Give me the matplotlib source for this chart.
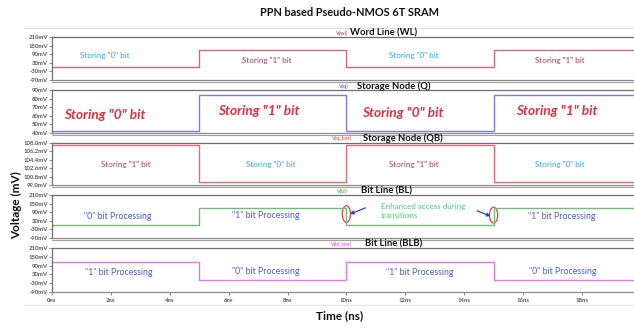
import matplotlib
matplotlib.use("Agg")
import matplotlib.pyplot as plt
from matplotlib.patches import Ellipse
from matplotlib.lines import Line2D

plt.rcParams['font.family'] = ['Lato', 'DejaVu Sans']

# ---- data ----
edges_ns = [0, 5, 10, 15, 19.77]
wl_levels = [0, 122, 0, 122]          # mV
q_levels = [42, 84, 42, 84]           # mV
qb_levels = [107.6, 99.7, 107.6, 99.7]  # mV
bl_levels = [0, 118, 0, 118]          # mV
blb_levels = [114, -10, 114, -10]     # mV

wl_ticks = [210, 150, 90, 30, -30, -90]
q_ticks = [90, 80, 70, 60, 50, 40]
qb_ticks = [108.0, 106.2, 104.4, 102.6, 100.8, 99.0]
bl_ticks = [210, 150, 90, 30, -30, -90]
blb_ticks = [210, 150, 90, 30, -30, -90]
x_ticks = [0, 2, 4, 6, 8, 10, 12, 14, 16, 18]

W, H = 634, 329
fig = plt.figure(figsize=(W / 100, H / 100), dpi=100)

def fx(px):
    return px / W

def fy(py):
    return 1 - py / H

left_px, right_px = 52, 634
panels = [
    # top_px, bottom_px, levels, ticks, fmt, color
    (37, 80, wl_levels, wl_ticks, "{:.0f}mV", "#d06a84"),
    (90, 133, q_levels, q_ticks, "{:.0f}mV", "#7c7ce0"),
    (143, 185, qb_levels, qb_ticks, "{:.1f}mV", "#e86878"),
    (195, 238, bl_levels, bl_ticks, "{:.0f}mV", "#74bc74"),
    (248, 292, blb_levels, blb_ticks, "{:.0f}mV", "#e474ec"),
]

axes = []
for i, (t, b, lev, ticks, fmt, col) in enumerate(panels):
    ax = fig.add_axes([fx(left_px), fy(b), fx(right_px - left_px), (b - t) / H])
    xs, ys = [], []
    for k, v in enumerate(lev):
        xs += [edges_ns[k], edges_ns[k + 1]]
        ys += [v, v]
    ax.plot(xs, ys, color=col, lw=1.0)
    ax.set_xlim(0, 19.77)
    ax.set_ylim(min(ticks), max(ticks))
    ax.set_yticks(ticks)
    ax.set_yticklabels([fmt.format(v) for v in ticks], fontsize=4.3,
                       color="#555555", fontweight="bold")
    ax.tick_params(axis='y', length=2, width=0.6, color="#777777", pad=1)
    ax.spines['right'].set_visible(False)
    ax.spines['top'].set_color("#6e6e6e")
    ax.spines['bottom'].set_color("#8a8a8a")
    ax.spines['left'].set_color("#6e6e6e")
    for s in ['top', 'bottom', 'left']:
        ax.spines[s].set_linewidth(0.9)
    if i < 4:
        ax.set_xticks([])
    else:
        ax.set_xticks(x_ticks)
        ax.set_xticklabels([f"{v}ns" for v in x_ticks], fontsize=4.3,
                           color="#555555", fontweight="bold")
        ax.tick_params(axis='x', length=2, width=0.6, color="#777777", pad=2)
    if i < 4:
        fig.add_artist(Line2D([fx(left_px), 1], [fy(b + 2), fy(b + 2)],
                              color="#a0a0a0", lw=0.8))
    axes.append(ax)

ax_wl, ax_q, ax_qb, ax_bl, ax_blb = axes

cyan = "#2aa8e0"
maroon = "#a43a62"
red = "#e03040"
slate = "#4a5cc8"
green = "#4cc878"

# WL texts
for x, y, s, c in [(1.8, 84, 'Storing "0" bit', cyan), (7.3, 49, 'Storing "1" bit', maroon),
                   (12.3, 84, 'Storing "0" bit', cyan), (17.25, 49, 'Storing "1" bit', maroon)]:
    ax_wl.text(x, y, s, color=c, fontsize=5.8, ha='center', va='center')

# Q texts
for x, y, s in [(1.78, 61, 'Storing "0" bit'), (7.03, 65.5, 'Storing "1" bit'),
                (11.9, 63, 'Storing "0" bit'), (17.15, 65.5, 'Storing "1" bit')]:
    ax_q.text(x, y, s, color=red, fontsize=9.8, ha='center', va='center',
              fontweight='bold', fontstyle='italic')

# QB texts
for x, y, s, c in [(2.5, 103.3, 'Storing "1" bit', maroon), (7.44, 103.3, 'Storing "0" bit', cyan),
                   (12.3, 103.3, 'Storing "1" bit', maroon), (17.25, 103.3, 'Storing "0" bit', cyan)]:
    ax_qb.text(x, y, s, color=c, fontsize=5.8, ha='center', va='center')

# BL texts
for x, y, s in [(2.24, 63, '"0" bit Processing'), (7.25, 70, '"1" bit Processing'),
                (17.3, 58, '"1" bit Processing')]:
    ax_bl.text(x, y, s, color=slate, fontsize=6.3, ha='center', va='center')
ax_bl.text(11.17, 98, "Enhanced access during\ntransitions", color=green, fontsize=5.8,
           ha='left', va='center', linespacing=1.3)
ax_bl.add_patch(Ellipse((10.0, 77), 0.28, 116, fill=False, ec="#e04040", lw=0.9))
ax_bl.add_patch(Ellipse((15.0, 70), 0.28, 110, fill=False, ec="#e04040", lw=0.9))
ax_bl.annotate("", xy=(10.12, 77), xytext=(10.65, 120),
               arrowprops=dict(arrowstyle="-|>", color="#3a3ad0", lw=0.9,
                               mutation_scale=5, shrinkA=0, shrinkB=0))
ax_bl.annotate("", xy=(14.9, 62), xytext=(14.44, 100),
               arrowprops=dict(arrowstyle="-|>", color="#3a3ad0", lw=0.9,
                               mutation_scale=5, shrinkA=0, shrinkB=0))

# BLB texts
for x, y, s in [(2.27, 44, '"1" bit Processing'), (7.25, 51, '"0" bit Processing'),
                (12.5, 44, '"1" bit Processing'), (17.35, 51, '"0" bit Processing')]:
    ax_blb.text(x, y, s, color=slate, fontsize=6.3, ha='center', va='center')

# Headers
headers = [
    (33, 336, "V(wl)", "#b03030", 350, "Word Line (WL)"),
    (86, 339, "V(q)", "#4040c0", 357, "Storage Node (Q)"),
    (138, 332, "V(q_bar)", "#e04040", 363, "Storage Node (QB)"),
    (191, 337, "V(bl)", "#30a030", 361, "Bit Line (BL)"),
    (244, 331, "V(bl_bar)", "#e040e0", 365, "Bit Line (BLB)"),
]
for y, x1, s1, c1, x2, s2 in headers:
    fig.text(fx(x1), fy(y), s1, color=c1, fontsize=4.0, ha='left', va='center')
    fig.text(fx(x2), fy(y), s2, color="#111111", fontsize=6.8, ha='left', va='center',
             fontweight='bold')

# outer pane borders
fig.add_artist(Line2D([fx(24), 1], [fy(28), fy(28)], color="#dddddd", lw=0.8))
fig.add_artist(Line2D([fx(24), 1], [fy(305), fy(305)], color="#e4e4e4", lw=0.8))

fig.text(fx(350), fy(13), "PPN based Pseudo-NMOS 6T SRAM", fontsize=7.9,
         fontweight='bold', ha='center', va='center', color="#111111")
fig.text(fx(340), fy(316), "Time (ns)", fontsize=8.5, fontweight='bold',
         ha='center', va='center', color="#111111")
fig.text(fx(17), fy(205), "Voltage (mV)", fontsize=8.5, fontweight='bold',
         ha='center', va='center', rotation=90, color="#111111")

fig.savefig("out.png", dpi=100)
